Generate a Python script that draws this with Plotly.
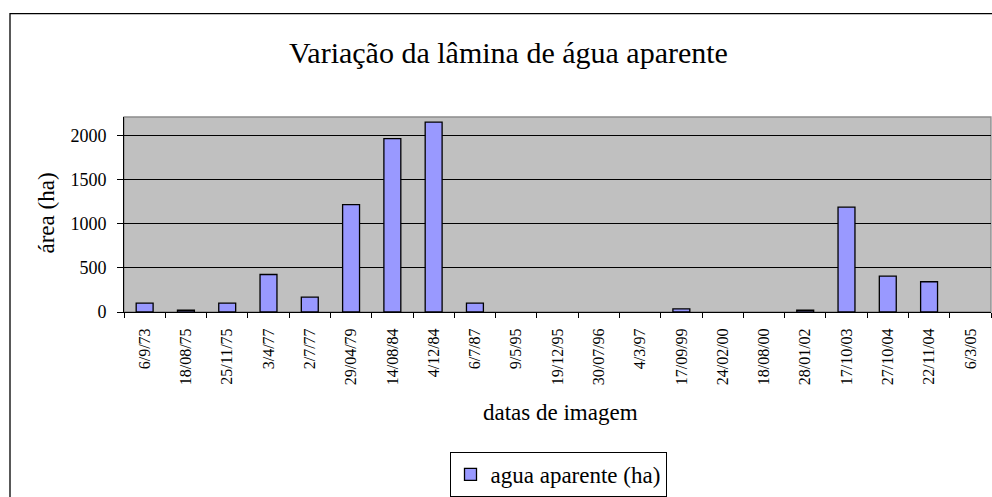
import plotly.graph_objects as go

# Image dates and apparent water-surface area (ha)
datas = ["6/9/73", "18/08/75", "25/11/75", "3/4/77", "2/7/77", "29/04/79",
         "14/08/84", "4/12/84", "6/7/87", "9/5/95", "19/12/95", "30/07/96",
         "4/3/97", "17/09/99", "24/02/00", "18/08/00", "28/01/02", "17/10/03",
         "27/10/04", "22/11/04", "6/3/05"]
area_ha = [100, 20, 100, 425, 168, 1218, 1966, 2153, 100, 0, 0, 0,
           0, 35, 0, 0, 20, 1188, 406, 343, 0]

serie_nome = "agua aparente (ha)"
titulo = "Variação da lâmina de água aparente"
titulo_y = "área (ha)"
titulo_x = "datas de imagem"
y_ticks = [0, 500, 1000, 1500, 2000]

FONT = "Liberation Serif"

# zero-valued dates get no outline, so nothing is drawn for them
outline_w = [1.3 if v > 0 else 0 for v in area_ha]

fig = go.Figure()
fig.add_trace(go.Bar(
    x=datas, y=area_ha, name=serie_nome,
    marker=dict(color="#9999ff", line=dict(color="#000000", width=outline_w)),
    showlegend=True,
))

W, H = 992, 497
ml, mr, mt, mb = 124, 1, 117, 182
pw = W - ml - mr
ph = H - mt - mb


def px_x(x):
    return (x - ml) / pw


def px_y(y):
    return (H - mb - y) / ph


shapes = [
    # outer chart frame
    dict(type="rect", xref="paper", yref="paper",
         x0=px_x(10), x1=px_x(1010), y0=px_y(12), y1=px_y(520),
         line=dict(color="#000000", width=1.3), fillcolor="rgba(0,0,0,0)",
         layer="below"),
    # plot area border
    dict(type="rect", xref="paper", yref="paper", x0=0, x1=1, y0=0, y1=1,
         line=dict(color="#8c8c8c", width=1.3), fillcolor="rgba(0,0,0,0)",
         layer="below"),
]

fig.update_layout(
    width=W, height=H,
    margin=dict(l=ml, r=mr, t=mt, b=mb),
    paper_bgcolor="#ffffff",
    plot_bgcolor="#c0c0c0",
    font=dict(family=FONT, color="#000000"),
    bargap=0.59,
    shapes=shapes,
    showlegend=True,
    legend=dict(
        x=px_x(558), xanchor="center", xref="paper",
        y=px_y(457), yanchor="top", yref="paper",
        orientation="h",
        bordercolor="#000000", borderwidth=1, bgcolor="#ffffff",
        font=dict(family=FONT, size=23),
        itemwidth=30,
    ),
    annotations=[
        dict(text=titulo, xref="paper", yref="paper", x=px_x(508), y=px_y(51),
             xanchor="center", yanchor="middle", showarrow=False,
             font=dict(family=FONT, size=30)),
        dict(text=titulo_y, xref="paper", yref="paper", x=px_x(47), y=px_y(215),
             xanchor="center", yanchor="middle", showarrow=False, textangle=-90,
             font=dict(family=FONT, size=23)),
        dict(text=titulo_x, xref="paper", yref="paper", x=px_x(560), y=px_y(417),
             xanchor="center", yanchor="middle", showarrow=False,
             font=dict(family=FONT, size=23)),
    ],
)

fig.update_xaxes(
    type="category",
    tickangle=-90,
    tickfont=dict(family=FONT, size=16),
    ticks="outside", tickson="boundaries", ticklen=5, tickcolor="#000000",
    ticklabelstandoff=9,
    showline=True, linecolor="#000000", linewidth=1,
    showgrid=False, zeroline=False,
    range=[-0.5, len(datas) - 0.5],
)
fig.update_yaxes(
    range=[0, 2210],
    tickvals=y_ticks,
    tickfont=dict(family=FONT, size=18),
    ticks="outside", ticklen=6, tickcolor="#000000",
    ticklabelstandoff=7,
    showline=True, linecolor="#000000", linewidth=1,
    showgrid=True, gridcolor="#000000", gridwidth=1,
    zeroline=False,
)

fig.write_html("out.html")
